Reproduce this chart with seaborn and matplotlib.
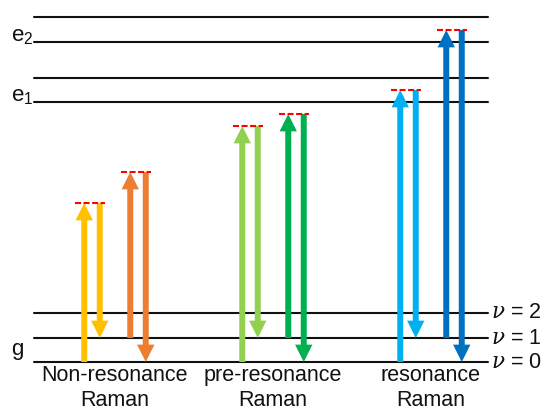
import matplotlib
matplotlib.use("Agg")
import matplotlib.pyplot as plt
from matplotlib.patches import FancyArrowPatch, ArrowStyle
import numpy as np
import pandas as pd
import seaborn as sns

# Energy levels (arbitrary units; ground vibrational state at 0)
ground_levels = [0, 24, 49]                 # g: nu = 0, 1, 2
ground_labels = ["$\\nu$ = 0", "$\\nu$ = 1", "$\\nu$ = 2"]
excited_levels = [260, 284, 320, 345]       # e1 (nu=0, nu=1), e2 (nu=0, nu=1)
state_labels = ["g", "e$_1$", "e$_2$"]
state_label_levels = [7, 261, 321]

categories = ["Non-resonance", "pre-resonance", "resonance"]
category_suffix = "Raman"

# Two excitations per scheme: virtual level reached, starting level, final level
virtual_levels = [[159, 190], [236, 248], [272, 332]]
start_levels = [[0, 24], [0, 24], [0, 24]]
end_levels = [[24, 0], [24, 0], [24, 0]]
arrow_colors = [["#FFC000", "#ED7D31"],
                ["#92D050", "#00B050"],
                ["#00B0F0", "#0070C0"]]

sns.set_theme(style="white")
plt.rcParams["font.family"] = ["Liberation Sans", "DejaVu Sans"]
plt.rcParams["mathtext.fontset"] = "custom"
plt.rcParams["mathtext.rm"] = "Liberation Sans"
plt.rcParams["mathtext.it"] = "DejaVu Serif:italic"

fig = plt.figure(figsize=(5.42, 4.12), dpi=100)
ax = fig.add_axes([0, 0, 1, 1])

# horizontal layout (group units)
scale = 158.0
line_left, line_right = (34 - 115) / scale, (488 - 115) / scale
pair_off = 23 / scale
arrow_off = 7.75 / scale
dash_half = 15 / scale
dash_shift = -2 / scale

# energy level lines
rows = []
for i, lv in enumerate(ground_levels + excited_levels):
    rows.append(dict(level=i, x=line_left, E=lv))
    rows.append(dict(level=i, x=line_right, E=lv))
levels_df = pd.DataFrame(rows)
sns.lineplot(data=levels_df, x="x", y="E", units="level", estimator=None,
             color="#111111", lw=1.5, ax=ax, legend=False, zorder=1)

# virtual levels (dashed red)
vrows = []
k = 0
for g, vl in enumerate(virtual_levels):
    for j, v in enumerate(vl):
        cx = g + (2 * j - 1) * pair_off + dash_shift
        vrows.append(dict(level=k, x=cx - dash_half, E=v))
        vrows.append(dict(level=k, x=cx + dash_half, E=v))
        k += 1
virtual_df = pd.DataFrame(vrows)
sns.lineplot(data=virtual_df, x="x", y="E", units="level", estimator=None,
             color="#FF0000", lw=1.5, linestyle=(0, (2.9, 1.2)), ax=ax,
             legend=False, zorder=4)

style = ArrowStyle.Simple(head_length=12.5, head_width=12.5, tail_width=4.3)


def draw_arrow(x, y0, y1, color):
    ax.add_patch(FancyArrowPatch((x, y0), (x, y1), arrowstyle=style,
                                 mutation_scale=1, shrinkA=0, shrinkB=0,
                                 color=color, lw=0, zorder=3))


for g in range(len(categories)):
    for j in range(2):
        cx = g + (2 * j - 1) * pair_off
        v = virtual_levels[g][j]
        c = arrow_colors[g][j]
        draw_arrow(cx - arrow_off, start_levels[g][j], v, c)   # excitation
        draw_arrow(cx + arrow_off, v, end_levels[g][j], c)     # scattering

# labels
for g, name in enumerate(categories):
    ax.text(g, -19, name, ha="center", va="baseline", fontsize=15.5, color="#111111")
    ax.text(g, -44, category_suffix, ha="center", va="baseline", fontsize=15.5, color="#111111")

for lab, lv in zip(ground_labels, ground_levels):
    ax.text((491 - 115) / scale, lv, lab, ha="left", va="center", fontsize=15.5,
            color="#111111")

state_x = (11 - 115) / scale
for lab, lv in zip(state_labels, state_label_levels):
    ax.text(state_x, lv, lab, ha="left", va="baseline", fontsize=16, color="#111111")

ax.set_xlim(-115 / scale, (542 - 115) / scale)
ax.set_ylim(-50, 362)
ax.axis("off")

fig.savefig("out.png", dpi=100, facecolor="white")
